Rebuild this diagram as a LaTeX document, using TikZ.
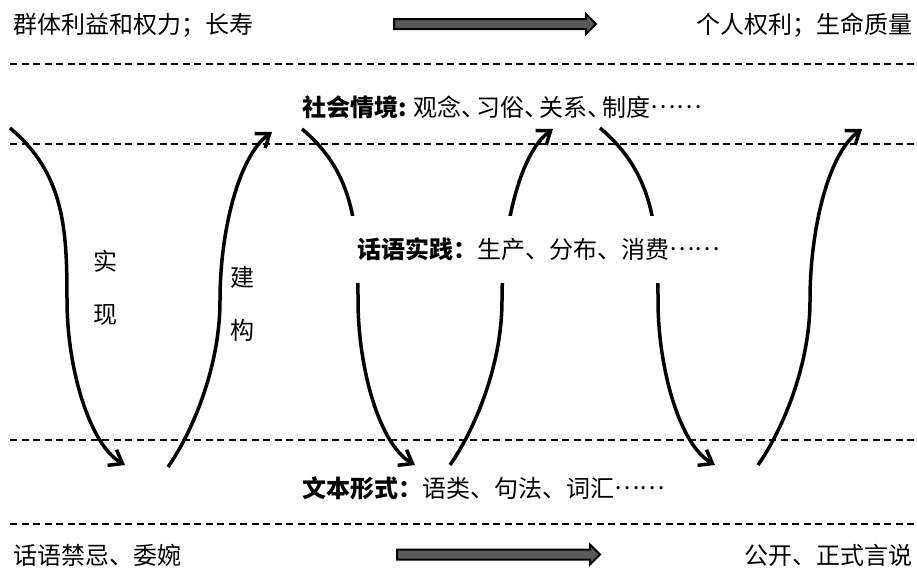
\documentclass[tikz,border=0pt]{standalone}
\usepackage{fontspec}
\newfontfamily\cjk{Noto Sans CJK SC}
\usetikzlibrary{arrows.meta}
\newcommand{\middots}{\raisebox{.33em}{……}}
\newcommand{\shortdun}{、\kern-9pt}

\begin{document}
\begin{tikzpicture}[x=1pt,y=1pt,
		every node/.style={font=\cjk\fontsize{24}{28}\selectfont,inner sep=0pt},
		divider/.style={line width=1.6pt,dash pattern=on 7pt off 4.5pt},
		flow/.style={line width=3.5pt,arrows={-Straight Barb[length=12pt,width=18pt]}},
		broad/.style={draw=black,line width=2pt,fill=black!65},
		vlabel/.style={align=center,font=\cjk\fontsize{24}{53}\selectfont}]
		\useasboundingbox (0,0) rectangle (917,-568);

		% layers
		\draw[divider] (10,-64) -- (917,-64);
		\draw[divider] (10,-144) -- (917,-144);
		\draw[divider] (10,-440) -- (917,-440);
		\draw[divider] (10,-524) -- (917,-524);

		% trend arrows
		\draw[broad] (394,-19) -- ++(192,0) -- ++(0,5) -- ++(10,-10) -- ++(-10,-10)
			-- ++(0,5) -- ++(-192,0) -- cycle;
		\draw[broad] (397,-549.5) -- ++(193,0) -- ++(0,5) -- ++(10,-10) -- ++(-10,-10)
			-- ++(0,5) -- ++(-193,0) -- cycle;

		% curve points
		\coordinate (s1) at (10,-128);
		\coordinate (m1) at (67,-300);
		\coordinate (e1) at (125,-465);
		\coordinate (s2) at (168,-467);
		\coordinate (m2) at (220,-300);
		\coordinate (t2) at (272,-132);
		\coordinate (s3) at (302,-129);
		\coordinate (m3) at (358,-300);
		\coordinate (e3) at (415,-465);
		\coordinate (s4) at (450,-465);
		\coordinate (m4) at (502,-300);
		\coordinate (t4) at (553,-129);
		\coordinate (s5) at (600,-128);
		\coordinate (m5) at (658,-300);
		\coordinate (e5) at (715,-465);
		\coordinate (s6) at (758,-465);
		\coordinate (m6) at (810,-300);
		\coordinate (t6) at (862,-129);

		\draw[flow] (s1) to[out=-40,in=90] (m1) to[out=-90,in=150,in looseness=.6] (e1);
		\draw[flow] (s2) to[out=55,in=-90,out looseness=.6] (m2) to[out=90,in=-144,in looseness=.6] (t2);
		\draw[flow] (s3) to[out=-40,in=90] (m3) to[out=-90,in=150,in looseness=.6] (e3);
		\draw[flow] (s4) to[out=55,in=-90,out looseness=.6] (m4) to[out=90,in=-144,in looseness=.6] (t4);
		\draw[flow] (s5) to[out=-40,in=90] (m5) to[out=-90,in=150,in looseness=.6] (e5);
		\draw[flow] (s6) to[out=55,in=-90,out looseness=.6] (m6) to[out=90,in=-144,in looseness=.6] (t6);

		% texts
		\node[anchor=west] (group) at (13,-25) {群体利益和权力；长寿};
		\node[anchor=east] (person) at (913,-25) {个人权利；生命质量};
		\node[anchor=west] (context) at (302,-107)
			{\textbf{社会情境:} 观念\shortdun 习俗\shortdun 关系\shortdun 制度\middots};
		\node[anchor=west,fill=white,inner xsep=14pt,minimum height=67pt] (practice)
			at (343,-249.5) {\textbf{话语实践：}生产、分布、消费\middots};
		\node[anchor=west] (form) at (302,-488) {\textbf{文本形式：}语类、句法、词汇\middots};
		\node[anchor=west] (taboo) at (13,-555) {话语禁忌、委婉};
		\node[anchor=east] (open) at (913,-555) {公开、正式言说};

		\node[vlabel] (realize) at (105,-288) {实\\现};
		\node[vlabel] (construct) at (242,-304) {建\\构};
	\end{tikzpicture}
\end{document}
